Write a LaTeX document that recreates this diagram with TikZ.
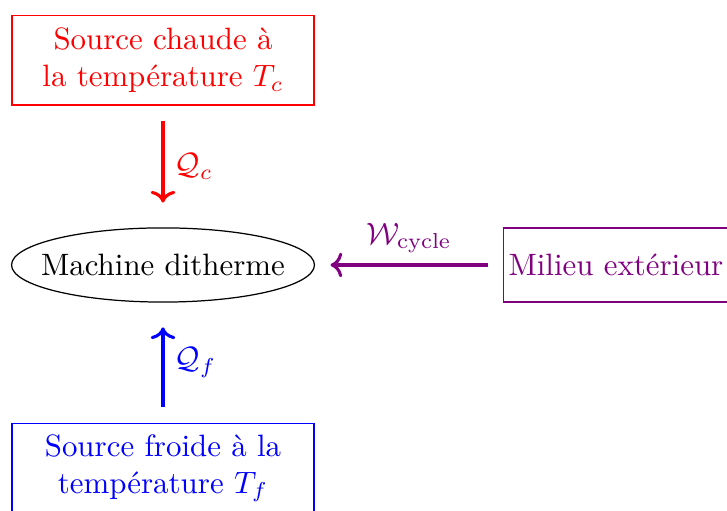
\documentclass[tikz,border=0pt]{standalone}
\usepackage{amsmath}
\usepackage{amssymb}
\usepackage{tikz}
\usetikzlibrary{arrows.meta}
\usetikzlibrary{shapes.geometric}
\usepackage{xcolor}

\begin{document}
\begin{tikzpicture}[
  source/.style={draw, text width=3.2cm, align=center, minimum height=29pt},
  flux/.style={->, line width=1pt, shorten <=5pt}
]
\useasboundingbox (-1.854,-2.798) rectangle (6.415,3.014);
\node[draw, ellipse, inner xsep=-4.8pt, inner ysep=0pt, minimum height=24pt] (machine) at (0,0) {Machine ditherme};
\node[source, red] (chaude) at (0,2.33) {Source chaude à\\ la température $T_c$};
\node[source, blue] (froide) at (0,-2.31) {Source froide à la\\ température $T_f$};
\node[draw, violet, anchor=west, inner xsep=1.6pt, minimum height=24pt] (milieu) at (3.867,0) {Milieu extérieur};
\draw[flux, red, shorten >=8pt] (chaude) -- node[right] {$\mathcal{Q}_c$} (machine);
\draw[flux, blue, shorten >=8pt] (froide) -- node[right] {$\mathcal{Q}_f$} (machine);
\draw[flux, violet, shorten >=5pt] (milieu) -- node[above] {$\mathcal{W}_{\text{cycle}}$} (machine);
\end{tikzpicture}
\end{document}
